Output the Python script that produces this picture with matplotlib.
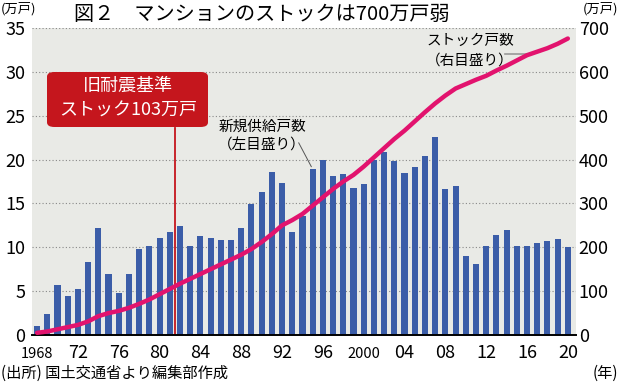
import numpy as np
import matplotlib.pyplot as plt
from matplotlib.patches import FancyBboxPatch

plt.rcParams['font.family'] = ['Noto Sans CJK JP', 'DejaVu Sans']

# 年と新規供給戸数(万戸, 左目盛り)
years = list(range(1968, 2021))
supply = [1.0, 2.4, 5.7, 4.4, 5.3, 8.3, 12.2, 7.0, 4.8, 7.0,
          9.8, 10.2, 11.1, 11.7, 12.4, 10.2, 11.3, 11.1, 10.8, 10.8,
          12.2, 14.9, 16.3, 18.6, 17.3, 11.7, 13.6, 18.9, 20.0, 18.1,
          18.3, 16.8, 17.2, 20.0, 20.9, 19.8, 18.5, 19.2, 20.4, 22.6,
          16.6, 17.0, 9.0, 8.1, 10.1, 11.4, 12.0, 10.1, 10.1, 10.5,
          10.7, 10.9, 10.0]
# ストック戸数(万戸, 右目盛り)
stock = [5, 8, 13, 18, 23, 31, 43, 50, 55, 62,
         71, 81, 93, 105, 117, 128, 139, 150, 161, 172,
         183, 196, 212, 230, 250, 262, 276, 295, 314, 333,
         350, 365, 384, 405, 426, 447, 466, 487, 508, 528,
         546, 562, 572, 582, 591, 603, 614, 626, 638, 646,
         654, 664, 676]

xticks = [1968, 1972, 1976, 1980, 1984, 1988, 1992, 1996, 2000,
          2004, 2008, 2012, 2016, 2020]
xlabels = ['1968', '72', '76', '80', '84', '88', '92', '96', '2000',
           '04', '08', '12', '16', '20']

bar_color = '#3b5da8'
line_color = '#e2136e'
box_color = '#c5161d'

fig = plt.figure(figsize=(6.2, 3.83), dpi=100)
ax = fig.add_axes([32/620, 1-335/383, 544/620, 307/383])
ax.set_facecolor('#e9eae6')

ax.bar(years, supply, width=0.6, color=bar_color, zorder=2)
ax.set_xlim(1967.5, 2020.8)
ax.set_ylim(0, 35)
ax.set_yticks(range(0, 36, 5))
ax.set_xticks(xticks)
ax.set_xticklabels(xlabels)
# ラベルはベースラインをそろえる
ax.tick_params(axis='x', length=0, pad=16.5, labelsize=13)
ax.tick_params(axis='y', length=0, pad=5, labelsize=13)
for lab in ax.get_xticklabels():
    lab.set_verticalalignment('baseline')
    if len(lab.get_text()) == 4:
        lab.set_fontsize(10.5)
ax.yaxis.grid(True, linestyle=(0, (1, 2)), color='#888888', linewidth=0.8, zorder=1)
for s in ['top', 'left', 'right']:
    ax.spines[s].set_visible(False)
ax.spines['bottom'].set_linewidth(1.4)
ax.spines['bottom'].set_zorder(5)

# 旧耐震基準の線
ax.plot([1981.5, 1981.5], [0, 23.6], color=box_color, linewidth=1.3, zorder=3)

ax2 = ax.twinx()
ax2.set_ylim(0, 700)
ax2.set_yticks(range(0, 701, 100))
ax2.tick_params(axis='y', length=0, pad=2, labelsize=13)
for s in ['top', 'left', 'right', 'bottom']:
    ax2.spines[s].set_visible(False)
ax2.plot(years, stock, color=line_color, linewidth=3.2, solid_capstyle='round', zorder=4)

# 赤い枠
box = FancyBboxPatch((47/620, 1-127/383), 161/620, 55/383,
                     boxstyle='round,pad=0,rounding_size=0.012',
                     transform=fig.transFigure, facecolor=box_color,
                     edgecolor='none', zorder=6)
fig.patches.append(box)
fig.text(128/620, 1-86/383, '旧耐震基準', color='white', fontsize=13,
         ha='center', va='center', zorder=7)
fig.text(128/620, 1-111/383, 'ストック103万戸', color='white', fontsize=13,
         ha='center', va='center', zorder=7)

# 注記
fig.text(262/620, 1-127/383, '新規供給戸数', fontsize=10.5, ha='center', va='center')
fig.text(262/620, 1-146/383, '（左目盛り）', fontsize=10.5, ha='center', va='center')
ax.annotate('', xy=(1995, 18.9), xytext=(1993.5, 22.2),
            arrowprops=dict(arrowstyle='-', color='#555555', linewidth=0.7))
fig.text(470/620, 1-41/383, 'ストック戸数', fontsize=10.5, ha='center', va='center')
fig.text(470/620, 1-61/383, '（右目盛り）', fontsize=10.5, ha='center', va='center')
ax2.plot([2013.8, 2016.6], [640, 640], color='#999999', linewidth=1.2, zorder=3)

# タイトル・単位
fig.text(262/620, 1-14/383, '図２　マンションのストックは700万戸弱', fontsize=14.5,
         ha='center', va='center')
fig.text(1/620, 1-9/383, '(万戸)', fontsize=9.5, ha='left', va='center')
fig.text(618/620, 1-9/383, '(万戸)', fontsize=9.5, ha='right', va='center')
fig.text(1/620, 1-373/383, '(出所) 国土交通省より編集部作成', fontsize=11,
         ha='left', va='center')
fig.text(618/620, 1-373/383, '(年)', fontsize=11, ha='right', va='center')

fig.savefig('out.png', dpi=100)
